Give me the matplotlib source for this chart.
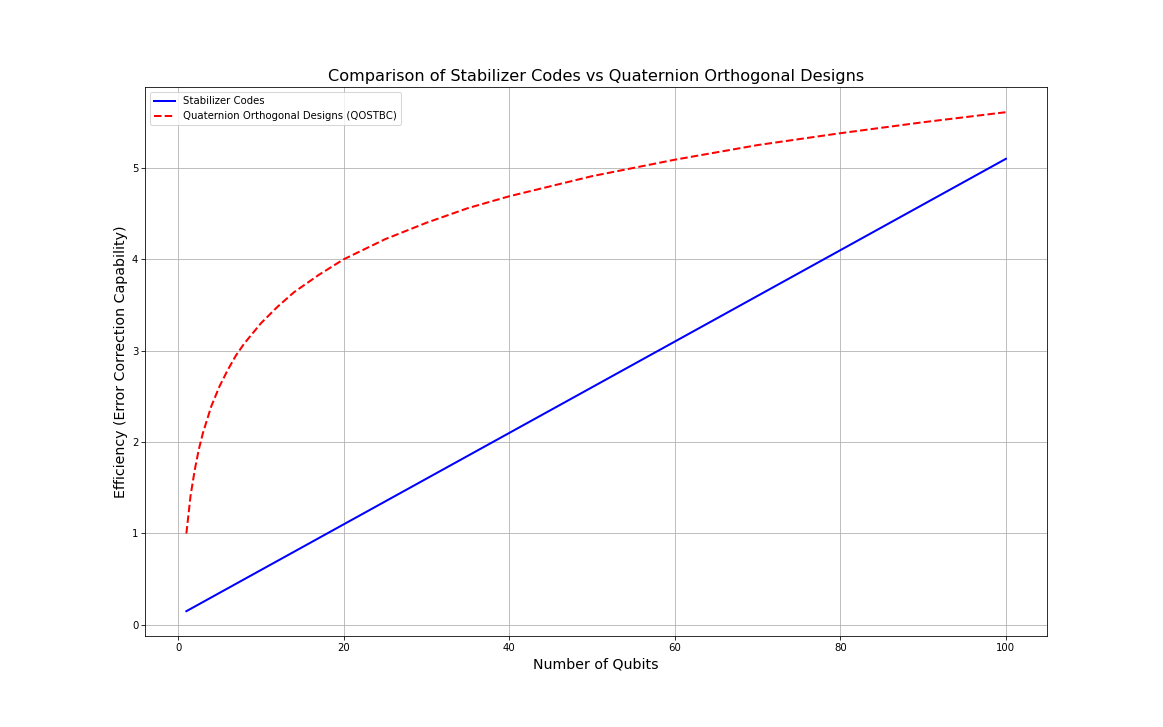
import matplotlib
matplotlib.use("Agg")
import matplotlib.pyplot as plt

# Stabilizer codes (straight line), read at the ends
stab_qubits = [1, 100]
stab_eff = [0.15, 5.10]

# Quaternion orthogonal designs
qostbc_qubits = [1, 1.5, 2, 2.5, 3, 4, 5, 6, 7, 8, 10, 12, 14, 17, 20,
                 25, 30, 35, 40, 50, 60, 70, 80, 90, 100]
qostbc_eff = [1.00, 1.41, 1.69, 1.92, 2.10, 2.39, 2.61, 2.79, 2.95, 3.08,
              3.30, 3.48, 3.64, 3.83, 4.00, 4.22, 4.40, 4.56, 4.69, 4.91,
              5.09, 5.25, 5.38, 5.50, 5.61]

fig = plt.figure(figsize=(16, 10), dpi=72.7)
ax = fig.add_subplot(111)
fig.subplots_adjust(left=0.125, right=0.9, top=0.88, bottom=0.125)

ax.plot(stab_qubits, stab_eff, color='blue', linewidth=2, label='Stabilizer Codes')
ax.plot(qostbc_qubits, qostbc_eff, color='red', linestyle='--', linewidth=2,
        label='Quaternion Orthogonal Designs (QOSTBC)')

ax.set_title('Comparison of Stabilizer Codes vs Quaternion Orthogonal Designs', fontsize=16)
ax.set_xlabel('Number of Qubits', fontsize=14)
ax.set_ylabel('Efficiency (Error Correction Capability)', fontsize=14)
ax.grid(True)
ax.legend(loc='upper left')

fig.savefig('out.png', dpi=72.7)
